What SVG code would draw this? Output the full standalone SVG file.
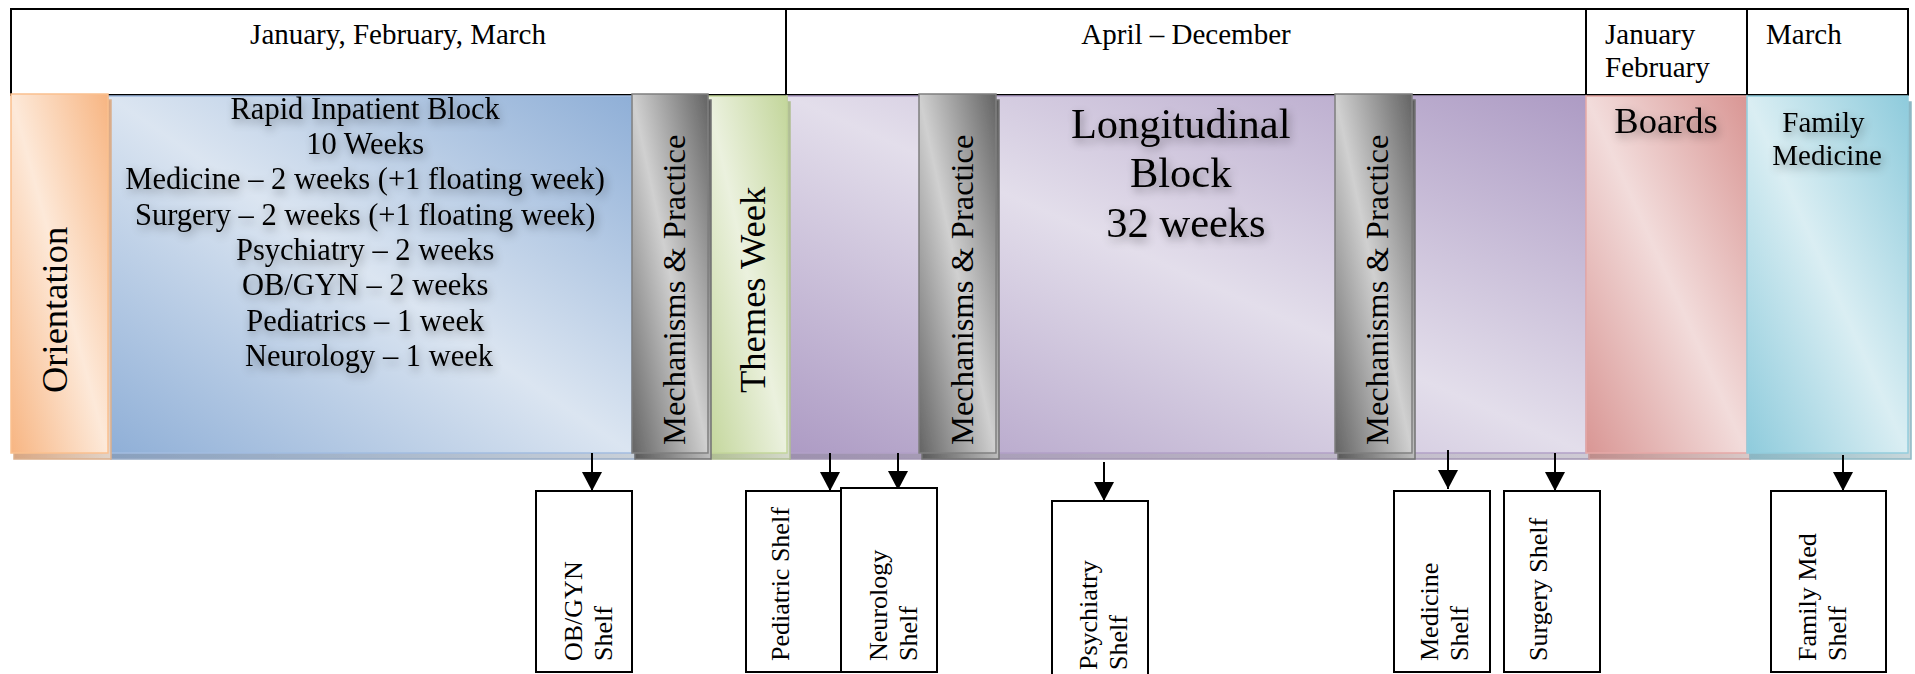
<svg xmlns="http://www.w3.org/2000/svg" width="1915" height="674" viewBox="0 0 1915 674">
<style>
  .hdr{font-family:"Liberation Serif","Times New Roman",serif;font-size:29px;fill:#000}
  .blk{font-family:"Liberation Serif","Times New Roman",serif;fill:#000}
  .shelf{font-family:"Liberation Serif","Times New Roman",serif;font-size:26px;fill:#000}
  .line{fill:none;stroke:#000;stroke-width:2}
  .box{fill:#fff;stroke:#000;stroke-width:2}
  .conn{stroke:#000;stroke-width:2;fill:none}
</style>
<defs>
  <linearGradient id="gOr" x1="1" y1="0" x2="0" y2="1"><stop offset="0" stop-color="#f7b582"/><stop offset="0.5" stop-color="#fde9d9"/><stop offset="1" stop-color="#f7b582"/></linearGradient>
  <linearGradient id="gBl" x1="1" y1="0" x2="0" y2="1"><stop offset="0" stop-color="#8fafd7"/><stop offset="0.5" stop-color="#dbe5f1"/><stop offset="1" stop-color="#8fafd7"/></linearGradient>
  <linearGradient id="gGy" x1="1" y1="0" x2="0" y2="1"><stop offset="0" stop-color="#646464"/><stop offset="0.5" stop-color="#d0d0d0"/><stop offset="1" stop-color="#646464"/></linearGradient>
  <linearGradient id="gGr" x1="1" y1="0" x2="0" y2="1"><stop offset="0" stop-color="#c3d69b"/><stop offset="0.5" stop-color="#ebf1de"/><stop offset="1" stop-color="#c3d69b"/></linearGradient>
  <linearGradient id="gPu" x1="1" y1="0" x2="0" y2="1"><stop offset="0" stop-color="#ad9bc4"/><stop offset="0.5" stop-color="#e3deeb"/><stop offset="1" stop-color="#ad9bc4"/></linearGradient>
  <linearGradient id="gRd" x1="1" y1="0" x2="0" y2="1"><stop offset="0" stop-color="#d99694"/><stop offset="0.5" stop-color="#f2dcdb"/><stop offset="1" stop-color="#d99694"/></linearGradient>
  <linearGradient id="gAq" x1="1" y1="0" x2="0" y2="1"><stop offset="0" stop-color="#8ecbdc"/><stop offset="0.5" stop-color="#daeef3"/><stop offset="1" stop-color="#8ecbdc"/></linearGradient>
  <filter id="sh" x="-5%" y="-5%" width="115%" height="115%">
    <feOffset in="SourceGraphic" dx="3" dy="6" result="o"/>
    <feColorMatrix in="o" type="matrix" values="0.7 0.05 0.05 0 0  0.05 0.7 0.05 0 0  0.05 0.05 0.7 0 0  0 0 0 1 0" result="d"/>
    <feMerge><feMergeNode in="d"/><feMergeNode in="SourceGraphic"/></feMerge>
  </filter>
  <filter id="ts" x="-10%" y="-40%" width="120%" height="180%">
    <feGaussianBlur in="SourceAlpha" stdDeviation="5" result="b"/>
    <feOffset in="b" dx="2" dy="4" result="bo"/>
    <feComponentTransfer in="bo" result="bt"><feFuncA type="linear" slope="0.4"/></feComponentTransfer>
    <feMerge><feMergeNode in="bt"/><feMergeNode in="SourceGraphic"/></feMerge>
  </filter>
  <marker id="ah" markerUnits="userSpaceOnUse" markerWidth="20" markerHeight="20" refX="19" refY="10" orient="auto">
    <path d="M0,0 L19,10 L0,20 z" fill="#000"/>
  </marker>
</defs>

<g id="header">
  <rect class="line" x="11" y="9" width="1897" height="86"/>
  <line class="line" x1="786" y1="9" x2="786" y2="95"/>
  <line class="line" x1="1586" y1="9" x2="1586" y2="95"/>
  <line class="line" x1="1747" y1="9" x2="1747" y2="95"/>
  <text class="hdr" x="398" y="44" text-anchor="middle">January, February, March</text>
  <text class="hdr" x="1186" y="44" text-anchor="middle">April – December</text>
  <text class="hdr" x="1605" y="44">January</text>
  <text class="hdr" x="1605" y="77">February</text>
  <text class="hdr" x="1766" y="44">March</text>
</g>

<g id="rapid">
  <rect x="108" y="96" width="524" height="357" fill="url(#gBl)" stroke="#a2bce0" stroke-width="1.5" filter="url(#sh)"/>
  <text class="blk" font-size="30.5" text-anchor="middle" filter="url(#ts)">
    <tspan x="369" y="119">Rapid Inpatient Block</tspan>
    <tspan x="369" y="154">10 Weeks</tspan>
    <tspan x="369" y="189">Medicine – 2 weeks (+1 floating week)</tspan>
    <tspan x="369" y="225">Surgery – 2 weeks (+1 floating week)</tspan>
    <tspan x="369" y="260">Psychiatry – 2 weeks</tspan>
    <tspan x="369" y="295">OB/GYN – 2 weeks</tspan>
    <tspan x="369" y="331">Pediatrics – 1 week</tspan>
    <tspan x="369" y="366">Neurology – 1 week</tspan>
  </text>
</g>

<g id="longitudinal">
  <rect x="787" y="96" width="799" height="357" fill="url(#gPu)" stroke="#b2a1c7" stroke-width="1.5" filter="url(#sh)"/>
  <text class="blk" font-size="42.5" text-anchor="middle" filter="url(#ts)">
    <tspan x="1186" y="138">Longitudinal</tspan>
    <tspan x="1186" y="187">Block</tspan>
    <tspan x="1186" y="237">32 weeks</tspan>
  </text>
</g>

<g id="boards">
  <rect x="1586" y="96" width="161" height="357" fill="url(#gRd)" stroke="#e6a9a7" stroke-width="1.5" filter="url(#sh)"/>
  <text class="blk" font-size="36.5" x="1666" y="133" text-anchor="middle" filter="url(#ts)">Boards</text>
</g>

<g id="family-medicine">
  <rect x="1747" y="96" width="161" height="357" fill="url(#gAq)" stroke="#93cddd" stroke-width="1.5" filter="url(#sh)"/>
  <text class="blk" font-size="29" text-anchor="middle" filter="url(#ts)">
    <tspan x="1827" y="132">Family</tspan>
    <tspan x="1827" y="165">Medicine</tspan>
  </text>
</g>

<g id="themes-week">
  <rect x="708" y="96" width="79" height="357" fill="url(#gGr)" stroke="#c3d69b" stroke-width="1.5" filter="url(#sh)"/>
  <text class="blk" font-size="36.5" transform="translate(765,393) rotate(-90)">Themes Week</text>
</g>

<g id="orientation">
  <rect x="11" y="94" width="97" height="359" fill="url(#gOr)" stroke="#fac08f" stroke-width="1.5" filter="url(#sh)"/>
  <text class="blk" font-size="36.5" transform="translate(67,393) rotate(-90)">Orientation</text>
</g>

<g id="mechanisms-1">
  <rect x="632" y="94" width="76" height="359" fill="url(#gGy)" stroke="#7f7f7f" stroke-width="1.5" filter="url(#sh)"/>
  <text class="blk" font-size="32.5" transform="translate(685,445) rotate(-90)">Mechanisms &amp; Practice</text>
</g>

<g id="mechanisms-2">
  <rect x="919" y="94" width="77" height="359" fill="url(#gGy)" stroke="#7f7f7f" stroke-width="1.5" filter="url(#sh)"/>
  <text class="blk" font-size="32.5" transform="translate(973,445) rotate(-90)">Mechanisms &amp; Practice</text>
</g>

<g id="mechanisms-3">
  <rect x="1335" y="94" width="77" height="359" fill="url(#gGy)" stroke="#7f7f7f" stroke-width="1.5" filter="url(#sh)"/>
  <text class="blk" font-size="32.5" transform="translate(1388,445) rotate(-90)">Mechanisms &amp; Practice</text>
</g>

<g id="connectors">
  <line class="conn" x1="592" y1="453" x2="592" y2="491" marker-end="url(#ah)"/>
  <line class="conn" x1="830" y1="453" x2="830" y2="491" marker-end="url(#ah)"/>
  <line class="conn" x1="898" y1="453" x2="898" y2="490" marker-end="url(#ah)"/>
  <line class="conn" x1="1104" y1="462" x2="1104" y2="501" marker-end="url(#ah)"/>
  <line class="conn" x1="1448" y1="450" x2="1448" y2="489" marker-end="url(#ah)"/>
  <line class="conn" x1="1555" y1="453" x2="1555" y2="491" marker-end="url(#ah)"/>
  <line class="conn" x1="1843" y1="455" x2="1843" y2="491" marker-end="url(#ah)"/>
</g>

<g id="obgyn-shelf">
  <rect class="box" x="536" y="491" width="96" height="181"/>
  <text class="shelf" transform="translate(582,661) rotate(-90)">OB/GYN</text>
  <text class="shelf" transform="translate(612,661) rotate(-90)">Shelf</text>
</g>
<g id="pediatric-shelf">
  <rect class="box" x="746" y="491" width="95" height="181"/>
  <text class="shelf" transform="translate(789,661) rotate(-90)">Pediatric Shelf</text>
</g>
<g id="neurology-shelf">
  <rect class="box" x="841" y="488" width="96" height="184"/>
  <text class="shelf" transform="translate(887,661) rotate(-90)">Neurology</text>
  <text class="shelf" transform="translate(917,661) rotate(-90)">Shelf</text>
</g>
<g id="psychiatry-shelf">
  <rect class="box" x="1052" y="501" width="96" height="184"/>
  <text class="shelf" transform="translate(1097,670) rotate(-90)">Psychiatry</text>
  <text class="shelf" transform="translate(1127,670) rotate(-90)">Shelf</text>
</g>
<g id="medicine-shelf">
  <rect class="box" x="1394" y="491" width="96" height="181"/>
  <text class="shelf" transform="translate(1438,661) rotate(-90)">Medicine</text>
  <text class="shelf" transform="translate(1468,661) rotate(-90)">Shelf</text>
</g>
<g id="surgery-shelf">
  <rect class="box" x="1504" y="491" width="96" height="181"/>
  <text class="shelf" transform="translate(1547,661) rotate(-90)">Surgery Shelf</text>
</g>
<g id="family-med-shelf">
  <rect class="box" x="1771" y="491" width="115" height="181"/>
  <text class="shelf" transform="translate(1816,661) rotate(-90)">Family Med</text>
  <text class="shelf" transform="translate(1846,661) rotate(-90)">Shelf</text>
</g>
</svg>
